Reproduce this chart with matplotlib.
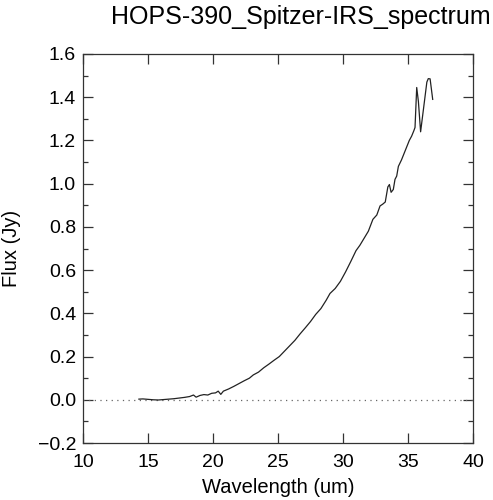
import numpy as np
import matplotlib
matplotlib.use("Agg")
import matplotlib.pyplot as plt
from matplotlib.ticker import MultipleLocator

# 光谱数据
wave = [14.3, 14.6, 15.0, 15.4, 15.8, 16.2, 16.6, 17.0, 17.4, 17.8,
        18.2, 18.5, 18.7, 19.0, 19.3, 19.6, 19.9, 20.2, 20.4, 20.6,
        20.8, 21.2, 21.6, 22.0, 22.4, 22.8, 23.1, 23.5, 23.9, 24.3,
        24.7, 25.1, 25.5, 25.9, 26.3, 26.7, 27.1, 27.5, 27.9, 28.3,
        28.7, 29.0, 29.4, 29.8, 30.2, 30.6, 31.0, 31.3, 31.6, 31.95,
        32.3, 32.6, 32.85, 33.05, 33.25, 33.45, 33.57, 33.7, 33.87, 34.0,
        34.13, 34.26, 34.5, 34.7, 34.9, 35.1, 35.28, 35.45, 35.54, 35.67,
        35.8, 35.97, 36.2, 36.45, 36.56, 36.7, 36.9]
flux = [0.003, 0.004, 0.002, 0.000, -0.001, 0.001, 0.003, 0.005, 0.008, 0.011,
        0.015, 0.022, 0.012, 0.020, 0.024, 0.022, 0.030, 0.032, 0.040, 0.025,
        0.040, 0.050, 0.062, 0.075, 0.088, 0.100, 0.115, 0.128, 0.148, 0.165,
        0.183, 0.200, 0.225, 0.250, 0.275, 0.305, 0.333, 0.362, 0.395, 0.422,
        0.460, 0.492, 0.515, 0.548, 0.592, 0.640, 0.690, 0.715, 0.745, 0.780,
        0.835, 0.855, 0.897, 0.905, 0.915, 0.985, 0.996, 0.960, 0.973, 1.020,
        1.035, 1.080, 1.110, 1.140, 1.170, 1.200, 1.220, 1.245, 1.260, 1.445,
        1.380, 1.240, 1.350, 1.470, 1.486, 1.485, 1.390]

x_ticks = [10, 15, 20, 25, 30, 35, 40]
y_ticks = [-0.2, 0.0, 0.2, 0.4, 0.6, 0.8, 1.0, 1.2, 1.4, 1.6]

plt.rcParams['font.family'] = ['Liberation Sans', 'DejaVu Sans']

fig = plt.figure(figsize=(4.93, 5.00), dpi=100)
ax = fig.add_axes([83/493, 57/500, 390/493, 389/500])

# 零线
ax.axhline(0.0, color='#666666', lw=0.9, ls=(0, (1, 3.5)))
ax.plot(wave, flux, color='#222222', lw=0.9)

ax.set_xlim(10, 40)
ax.set_ylim(-0.2, 1.6)
ax.set_xticks(x_ticks)
ax.set_yticks(y_ticks)
# 负号用长横线
ax.set_yticklabels([("%.1f" % v).replace("-", "\u2212") for v in y_ticks])
ax.yaxis.set_minor_locator(MultipleLocator(0.1))

ax.tick_params(which='both', direction='in', top=True, right=True,
               labelsize=14, color='#333333')
ax.tick_params(axis='x', pad=8)
ax.tick_params(axis='y', pad=5)
ax.tick_params(which='major', length=7, width=0.9)
ax.tick_params(which='minor', length=3.5, width=0.9)
for s in ax.spines.values():
    s.set_color('#333333')
    s.set_linewidth(0.9)

ax.set_xlabel("Wavelength (um)", fontsize=14.5, labelpad=5)
ax.set_ylabel("Flux (Jy)", fontsize=14.5, labelpad=12)

fig.text(301/493, 1 - 17/500, "HOPS-390_Spitzer-IRS_spectrum",
         ha='center', va='center', fontsize=18)

fig.savefig("out.png", dpi=100)
